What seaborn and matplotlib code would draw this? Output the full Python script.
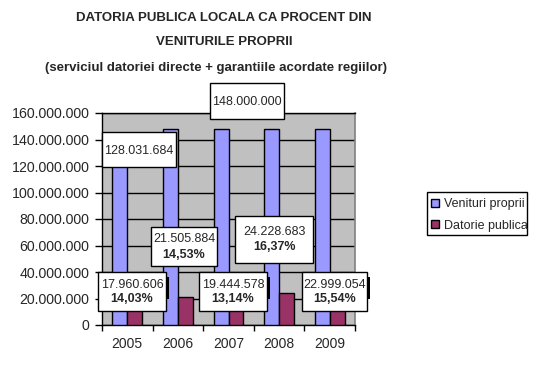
import pandas as pd
import matplotlib.pyplot as plt
import seaborn as sns
from matplotlib.patches import Rectangle
from matplotlib.ticker import FuncFormatter, FixedLocator

# ==================== Data ====================
years = ['2005', '2006', '2007', '2008', '2009']
venituri = [128031684, 148000000, 148000000, 148000000, 148000000]
datorie = [17960606, 21505884, 19444578, 24228683, 22999054]
procent = ['14,03%', '14,53%', '13,14%', '16,37%', '15,54%']
series_names = ['Venituri proprii', 'Datorie publica']

COLOR_BLUE = '#9999FF'
COLOR_PURPLE = '#993366'
COLOR_BG = '#C0C0C0'

df = pd.DataFrame({
    'an': years * 2,
    'valoare': venituri + datorie,
    'serie': [series_names[0]] * 5 + [series_names[1]] * 5,
})

# ==================== Global Settings ====================
sns.set_style("white")
plt.rcParams['font.family'] = ['Liberation Sans', 'DejaVu Sans']

W, H = 537, 368
fig = plt.figure(figsize=(W / 100, H / 100), dpi=100)

def fx(px):
    return px / W

def fy(py):
    return 1 - py / H

# plot area in pixels: x 102..355, y 113..325
ax = fig.add_axes([fx(102), fy(325), fx(355) - fx(102), fy(113) - fy(325)])
ax.set_facecolor(COLOR_BG)

sns.barplot(data=df, x='an', y='valoare', hue='serie', order=years,
            hue_order=series_names, palette=[COLOR_BLUE, COLOR_PURPLE],
            width=0.59, edgecolor='black', linewidth=1, saturation=1,
            errorbar=None, legend=False, ax=ax, zorder=3)

ax.set_ylim(0, 160000000)
ax.set_xlim(-0.5, 4.5)
ax.yaxis.set_major_locator(FixedLocator(range(0, 160000001, 20000000)))
ax.yaxis.set_major_formatter(FuncFormatter(lambda v, p: f'{int(v):,}'.replace(',', '.')))
ax.grid(True, axis='y', color='black', linewidth=1, zorder=0)
ax.set_axisbelow(True)
ax.set_xlabel('')
ax.set_ylabel('')

ax.tick_params(axis='y', direction='out', length=5, width=1, color='black',
               labelsize=10.2, pad=4, left=True)
ax.tick_params(axis='x', which='major', length=0, labelsize=10, pad=9)
ax.set_xticks([i - 0.5 for i in range(6)], minor=True)
ax.tick_params(axis='x', which='minor', direction='out', length=4, width=1,
               color='black', bottom=True)

for side in ['left', 'bottom', 'top']:
    ax.spines[side].set_color('black')
    ax.spines[side].set_linewidth(1)
ax.spines['right'].set_color('#808080')
ax.spines['right'].set_linewidth(1.2)

# ==================== Data labels ====================
def label_box(x0, y0, x1, y1, lines, shadow=False):
    if shadow:
        fig.patches.append(Rectangle((fx(x1), fy(y1 - 12)), fx(3), fy(y0 + 5) - fy(y1 - 12),
                                     transform=fig.transFigure, facecolor='black',
                                     edgecolor='none', zorder=4))
    fig.patches.append(Rectangle((fx(x0), fy(y1)), fx(x1) - fx(x0), fy(y0) - fy(y1),
                                 transform=fig.transFigure, facecolor='white',
                                 edgecolor='black', linewidth=1, zorder=5))
    cx = fx((x0 + x1) / 2)
    if len(lines) == 1:
        fig.text(cx, fy((y0 + y1) / 2 + 1), lines[0], ha='center', va='center',
                 fontsize=9, zorder=6)
    else:
        cy = (y0 + y1) / 2
        fig.text(cx, fy(cy - 7), lines[0], ha='center', va='center',
                 fontsize=9, zorder=6)
        fig.text(cx, fy(cy + 8), lines[1], ha='center', va='center',
                 fontsize=9, fontweight='bold', zorder=6)

def fmt(v):
    return f'{v:,}'.replace(',', '.')

label_box(102, 132, 176, 167, [fmt(venituri[0])])
label_box(210, 83, 284, 119, [fmt(venituri[2])])
label_box(98, 272, 166, 311, [fmt(datorie[0]), procent[0]], shadow=True)
label_box(151, 227, 217, 266, [fmt(datorie[1]), procent[1]])
label_box(199, 272, 267, 311, [fmt(datorie[2]), procent[2]], shadow=True)
label_box(235, 216, 313, 263, [fmt(datorie[3]), procent[3]])
label_box(302, 272, 367, 311, [fmt(datorie[4]), procent[4]], shadow=True)

# ==================== Titles ====================
fig.text(fx(224), fy(18), 'DATORIA PUBLICA LOCALA CA PROCENT DIN', ha='center',
         va='center', fontsize=9.5, fontweight='bold')
fig.text(fx(224), fy(42), 'VENITURILE PROPRII', ha='center', va='center',
         fontsize=9.5, fontweight='bold')
fig.text(fx(216), fy(68), '(serviciul datoriei directe + garantiile acordate regiilor)',
         ha='center', va='center', fontsize=9.5, fontweight='bold')

# ==================== Legend ====================
fig.patches.append(Rectangle((fx(427), fy(235)), fx(100), fy(192) - fy(235),
                             transform=fig.transFigure, facecolor='white',
                             edgecolor='black', linewidth=1, zorder=1))
handles = [Rectangle((0, 0), 1, 1, facecolor=c, edgecolor='black', linewidth=1)
           for c in [COLOR_BLUE, COLOR_PURPLE]]
leg = fig.legend(handles, series_names, loc='upper left',
                 bbox_to_anchor=(fx(428), fy(195)), fontsize=9, frameon=False,
                 handlelength=0.65, handleheight=0.65, handletextpad=0.35,
                 borderpad=0.25, labelspacing=0.75, borderaxespad=0)

fig.savefig('out.png', dpi=100)
